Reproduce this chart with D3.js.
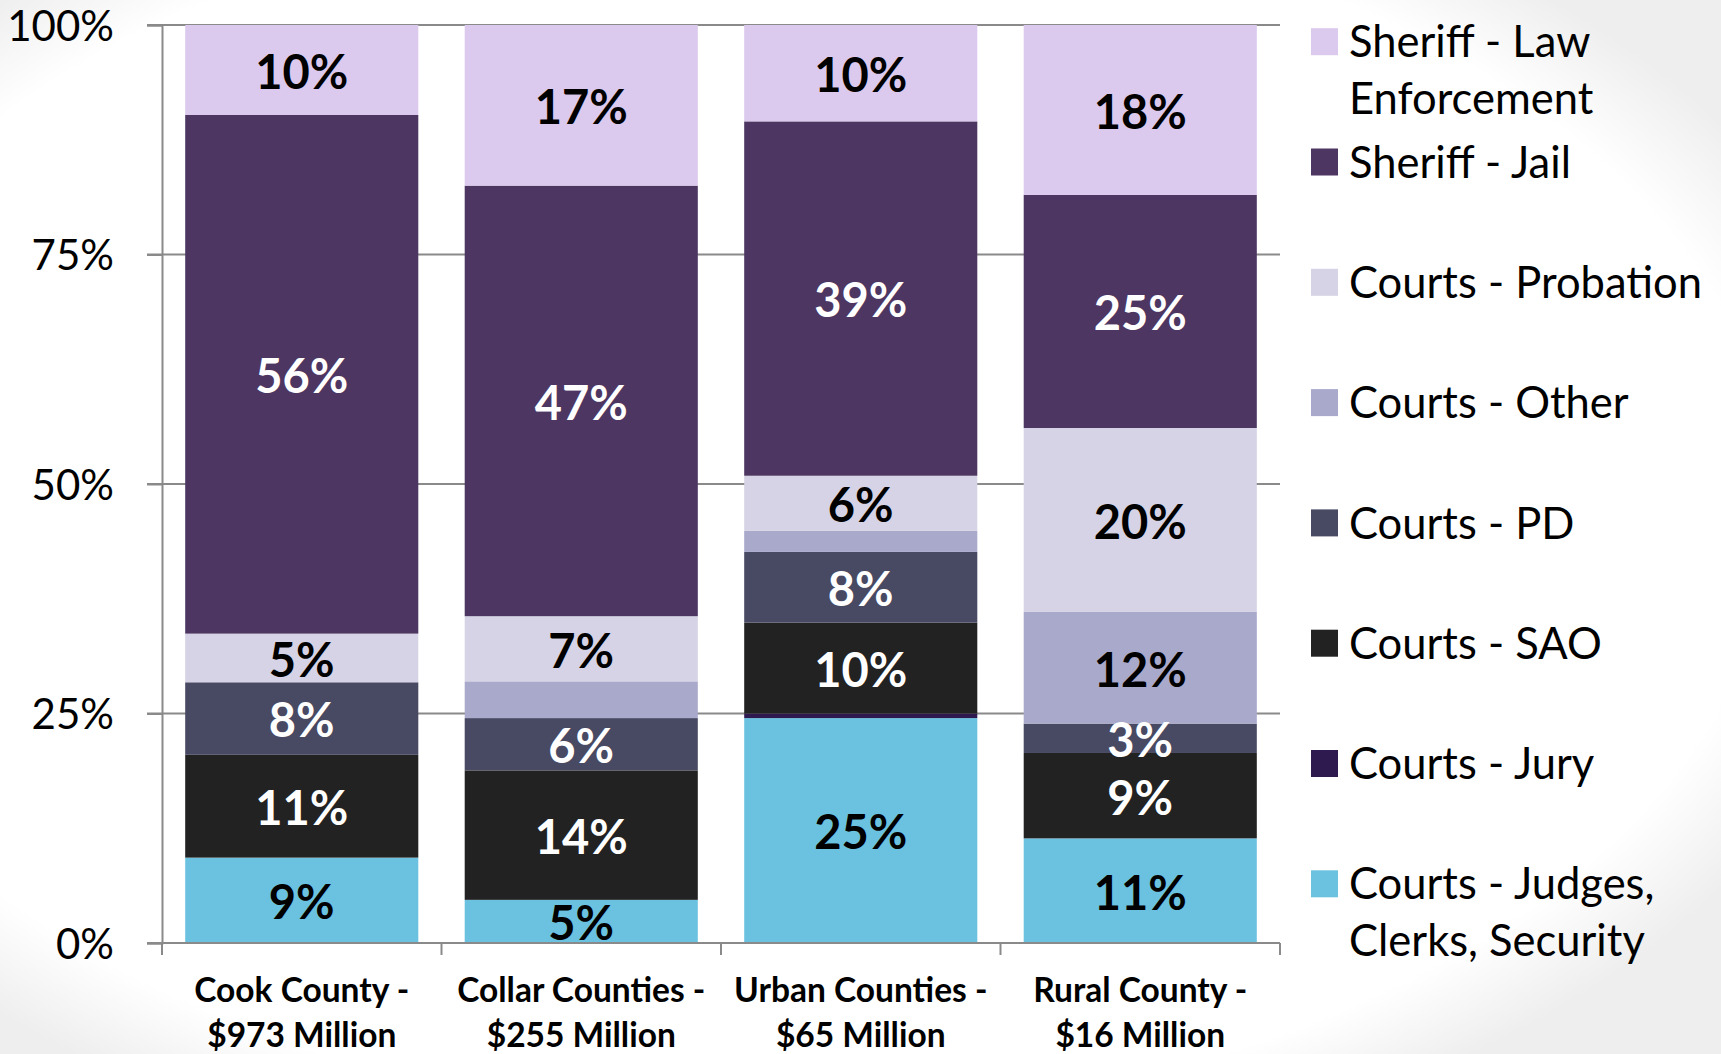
<!DOCTYPE html>
<html>
<head>
<meta charset="utf-8">
<script src="https://cdn.jsdelivr.net/npm/d3@7"></script>
<style>
  body { margin: 0; background: #fff; }
  svg { display: block; }
  text { font-family: Lato, "Open Sans", sans-serif; }
</style>
</head>
<body>
<svg id="chart" width="1721" height="1054"></svg>
<script>
// categorias (duas linhas cada)
const categories = [
    ["Cook County -", "$973 Million"],
    ["Collar Counties -", "$255 Million"],
    ["Urban Counties -", "$65 Million"],
    ["Rural County -", "$16 Million"]
];

// séries, de baixo para cima (% do orçamento)
const seriesNames = [
    "Courts - Judges, Clerks, Security",
    "Courts - Jury",
    "Courts - SAO",
    "Courts - PD",
    "Courts - Other",
    "Courts - Probation",
    "Sheriff - Jail",
    "Sheriff - Law Enforcement"
];
const judges    = [9.3, 4.7, 24.5, 11.4];
const jury      = [0, 0, 0.5, 0];
const sao       = [11.2, 14.1, 9.9, 9.3];
const pd        = [7.9, 5.7, 7.7, 3.2];
const other     = [0, 4.0, 2.3, 12.2];
const probation = [5.3, 7.1, 6.0, 20.0];
const jail      = [56.5, 46.9, 38.6, 25.4];
const lawEnf    = [9.8, 17.5, 10.5, 18.5];

// rótulos mostrados nas barras ("" = sem rótulo)
const judgesLabels    = ["9%", "5%", "25%", "11%"];
const juryLabels      = ["", "", "", ""];
const saoLabels       = ["11%", "14%", "10%", "9%"];
const pdLabels        = ["8%", "6%", "8%", "3%"];
const otherLabels     = ["", "", "", "12%"];
const probationLabels = ["5%", "7%", "6%", "20%"];
const jailLabels      = ["56%", "47%", "39%", "25%"];
const lawEnfLabels    = ["10%", "17%", "10%", "18%"];

const yTicks = [0, 0.25, 0.5, 0.75, 1];

const values = [judges, jury, sao, pd, other, probation, jail, lawEnf];
const labels = [judgesLabels, juryLabels, saoLabels, pdLabels, otherLabels, probationLabels, jailLabels, lawEnfLabels];
const colors = ["#6AC2E0", "#2F1A50", "#222222", "#484962", "#A9A9CC", "#D5D3E5", "#4D3661", "#DBC9EE"];
const labelColors = ["#000", "#fff", "#fff", "#fff", "#000", "#000", "#fff", "#000"];

const svg = d3.select("#chart");
const W = 1721, H = 1054;

// fundo com leve vinheta
const defs = svg.append("defs");
const grad = defs.append("radialGradient").attr("id", "bg")
    .attr("cx", 0.45).attr("cy", 0.48).attr("r", 0.66);
grad.append("stop").attr("offset", 0.88).attr("stop-color", "#fff");
grad.append("stop").attr("offset", 1).attr("stop-color", "#eeeeee");
svg.append("rect").attr("width", W).attr("height", H).attr("fill", "url(#bg)");

const plotL = 162, plotR = 1280, plotT = 25, plotB = 943;

const x = d3.scaleBand()
    .domain(d3.range(categories.length))
    .range([plotL, plotR])
    .paddingInner(0.166)
    .paddingOuter(0.083);

const y = d3.scaleLinear().domain([0, 1]).range([plotB, plotT]);

// tabela para o stack
const table = categories.map((c, i) => {
    const row = { i };
    seriesNames.forEach((s, k) => row[s] = values[k][i]);
    return row;
});
const stacked = d3.stack().keys(seriesNames).offset(d3.stackOffsetExpand)(table);

// grade
svg.append("g").selectAll("line")
    .data(yTicks)
    .join("line")
    .attr("x1", plotL - 15).attr("x2", plotR)
    .attr("y1", d => y(d)).attr("y2", d => y(d))
    .attr("stroke", "#8a8a8a").attr("stroke-width", 2);

// eixo Y
const yAxis = svg.append("g")
    .attr("transform", `translate(${plotL},0)`)
    .call(d3.axisLeft(y).tickValues(yTicks).tickFormat(d3.format(".0%")).tickSize(15).tickPadding(33));
yAxis.select(".domain").attr("stroke", "#8a8a8a").attr("stroke-width", 2);
yAxis.selectAll(".tick line").attr("stroke", "#8a8a8a").attr("stroke-width", 2);
yAxis.selectAll(".tick text")
    .attr("font-family", "Lato, sans-serif")
    .attr("font-size", 42)
    .attr("fill", "#000")
    .attr("dy", "0.36em");

// barras
const layers = svg.append("g").selectAll("g")
    .data(stacked)
    .join("g")
    .attr("fill", (d, k) => colors[k]);

layers.selectAll("rect")
    .data(d => d)
    .join("rect")
    .attr("x", d => x(d.data.i))
    .attr("width", x.bandwidth())
    .attr("y", d => y(d[1]))
    .attr("height", d => y(d[0]) - y(d[1]));

// eixo X (linha e marcas nos limites das categorias)
svg.append("line")
    .attr("x1", plotL - 15).attr("x2", plotR)
    .attr("y1", plotB).attr("y2", plotB)
    .attr("stroke", "#8a8a8a").attr("stroke-width", 2);
svg.append("g").selectAll("line")
    .data(d3.range(categories.length + 1))
    .join("line")
    .attr("x1", i => plotL + i * x.step()).attr("x2", i => plotL + i * x.step())
    .attr("y1", plotB).attr("y2", plotB + 12)
    .attr("stroke", "#8a8a8a").attr("stroke-width", 2);

// rótulos das barras
stacked.forEach((layer, k) => {
    svg.append("g").selectAll("text")
        .data(layer.filter(d => labels[k][d.data.i] !== ""))
        .join("text")
        .attr("x", d => x(d.data.i) + x.bandwidth() / 2)
        .attr("y", d => (y(d[0]) + y(d[1])) / 2 + 2)
        .attr("dy", "0.36em")
        .attr("text-anchor", "middle")
        .attr("font-size", 47)
        .attr("font-weight", "bold")
        .attr("fill", labelColors[k])
        .text(d => labels[k][d.data.i]);
});

// rótulos das categorias
const catText = svg.append("g").selectAll("text")
    .data(categories)
    .join("text")
    .attr("x", (d, i) => x(i) + x.bandwidth() / 2)
    .attr("y", 1002)
    .attr("text-anchor", "middle")
    .attr("font-size", 33.5)
    .attr("font-weight", "bold")
    .attr("fill", "#000");
catText.selectAll("tspan")
    .data(d => d)
    .join("tspan")
    .attr("x", function() { return this.parentNode.getAttribute("x"); })
    .attr("dy", (d, j) => j === 0 ? 0 : 45)
    .text(d => d);

// legenda (de cima para baixo)
const legX = 1311, legTextX = 1349, legMax = W - legTextX - 4;
const legend = svg.append("g");
seriesNames.slice().reverse().forEach((name, j) => {
    const k = seriesNames.length - 1 - j;
    const cy = 41.7 + j * 120.3;
    legend.append("rect")
        .attr("x", legX).attr("y", cy - 13.5)
        .attr("width", 27).attr("height", 27)
        .attr("fill", colors[k]);
    const t = legend.append("text")
        .attr("x", legTextX).attr("y", cy)
        .attr("font-size", 43.5)
        .attr("fill", "#000");
    // quebra de linha simples pela largura
    const words = name.split(" ");
    let line = [], tspan = t.append("tspan").attr("x", legTextX).attr("dy", "0.36em");
    words.forEach(w => {
        line.push(w);
        tspan.text(line.join(" "));
        if (tspan.node().getComputedTextLength() > legMax && line.length > 1) {
            line.pop();
            tspan.text(line.join(" "));
            line = [w];
            tspan = t.append("tspan").attr("x", legTextX).attr("dy", 57).text(w);
        }
    });
});
</script>
</body>
</html>
